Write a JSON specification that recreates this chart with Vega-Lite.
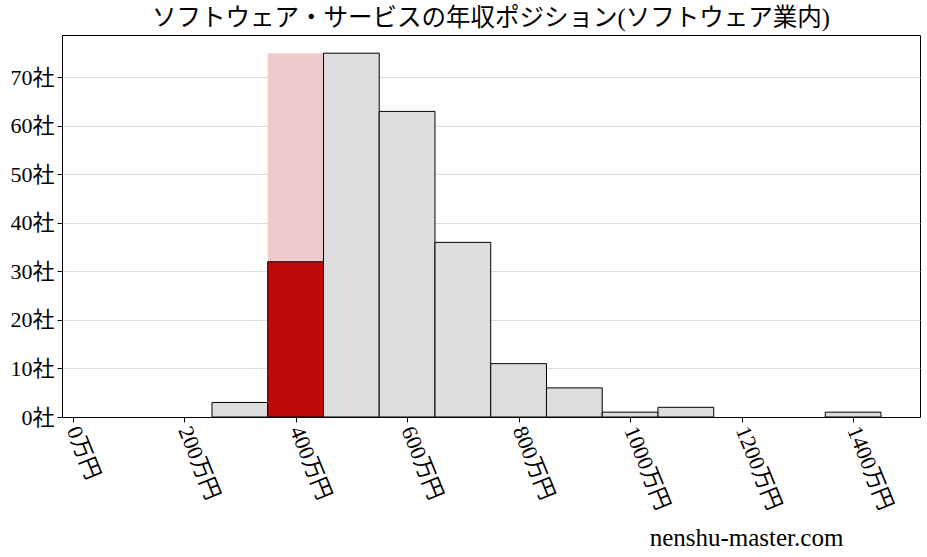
{
  "$schema": "https://vega.github.io/schema/vega-lite/v6.json",
  "width": 858,
  "height": 382,
  "autosize": {"type": "none"},
  "padding": {"left": 62, "top": 35, "right": 7, "bottom": 140},
  "title": {
    "text": "ソフトウェア・サービスの年収ポジション(ソフトウェア業内)",
    "font": "Liberation Serif, Noto Sans CJK JP",
    "fontSize": 24.5,
    "fontWeight": "normal",
    "color": "#000000",
    "anchor": "middle",
    "offset": 4
  },
  "datasets": {
    "bins": [
      {"start": 250, "end": 350, "count": 3, "kind": "other"},
      {"start": 350, "end": 450, "count": 32, "kind": "self"},
      {"start": 450, "end": 550, "count": 75, "kind": "other"},
      {"start": 550, "end": 650, "count": 63, "kind": "other"},
      {"start": 650, "end": 750, "count": 36, "kind": "other"},
      {"start": 750, "end": 850, "count": 11, "kind": "other"},
      {"start": 850, "end": 950, "count": 6, "kind": "other"},
      {"start": 950, "end": 1050, "count": 1, "kind": "other"},
      {"start": 1050, "end": 1150, "count": 2, "kind": "other"},
      {"start": 1350, "end": 1450, "count": 1, "kind": "other"}
    ],
    "highlight": [
      {"start": 350, "end": 450, "count": 75}
    ]
  },
  "layer": [
    {
      "data": {"name": "highlight"},
      "mark": {"type": "rect", "color": "#f0cbcc"},
      "encoding": {
        "x": {
          "field": "start",
          "type": "quantitative",
          "scale": {"domain": [-19, 1520], "nice": false, "zero": false},
          "axis": {
            "values": [0, 200, 400, 600, 800, 1000, 1200, 1400],
            "labelExpr": "datum.value + '万円'",
            "labelAngle": 68,
            "labelAlign": "left",
            "labelBaseline": "middle",
            "labelFontSize": 22,
            "labelPadding": 5,
            "grid": false,
            "title": "nenshu-master.com",
            "titleFontSize": 25,
            "titleFontWeight": "normal",
            "titleX": 684,
            "titleY": 128,
            "titleAlign": "center",
            "titleBaseline": "alphabetic"
          }
        },
        "x2": {"field": "end"},
        "y": {
          "field": "count",
          "type": "quantitative",
          "scale": {"domain": [0, 78.75], "nice": false},
          "axis": {
            "values": [0, 10, 20, 30, 40, 50, 60, 70],
            "labelExpr": "datum.value + '社'",
            "labelFontSize": 22,
            "labelPadding": 3,
            "title": null
          }
        },
        "y2": {"datum": 0}
      }
    },
    {
      "data": {"name": "bins"},
      "mark": {"type": "rect", "stroke": "#000000", "strokeWidth": 1},
      "encoding": {
        "x": {"field": "start", "type": "quantitative"},
        "x2": {"field": "end"},
        "y": {"field": "count", "type": "quantitative"},
        "y2": {"datum": 0},
        "color": {
          "field": "kind",
          "type": "nominal",
          "scale": {"domain": ["other", "self"], "range": ["#dcdddf", "#c00a0a"]},
          "legend": null
        }
      }
    }
  ],
  "config": {
    "font": "Liberation Serif, Noto Sans CJK JP",
    "view": {"stroke": "#000000", "strokeWidth": 1},
    "axis": {
      "labelFont": "Liberation Serif, Noto Sans CJK JP",
      "titleFont": "Liberation Serif, Noto Sans CJK JP",
      "labelColor": "#000000",
      "titleColor": "#000000",
      "domainColor": "#000000",
      "tickColor": "#000000",
      "tickSize": 5,
      "gridColor": "#d3d3d3",
      "gridWidth": 0.8
    }
  }
}
